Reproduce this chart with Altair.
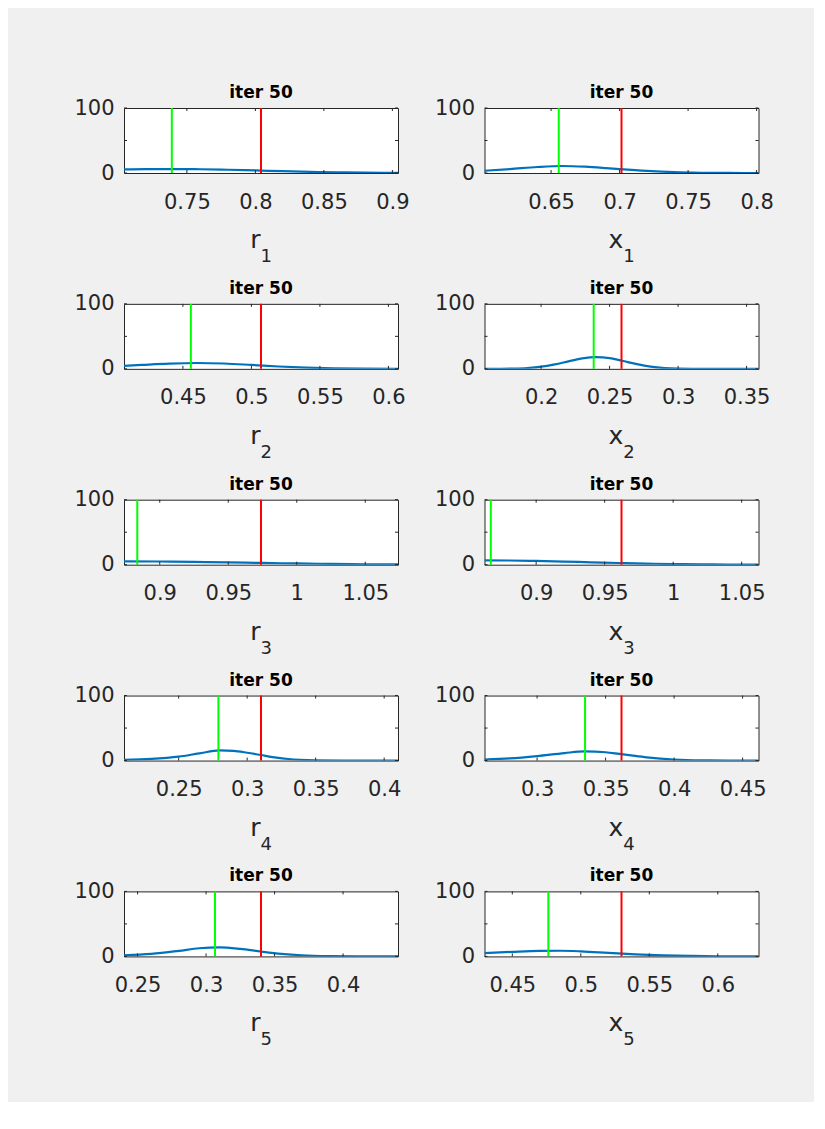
import altair as alt
import pandas as pd

FONT = "DejaVu Sans"
TEXT = "#262626"
BLUE = "#0072BD"

# panel identity
LETTERS = ["r", "x", "r", "x", "r", "x", "r", "x", "r", "x"]
SUBS = ["1", "1", "2", "2", "3", "3", "4", "4", "5", "5"]
TITLES = ["iter 50"] * 10

# red (reference) and green (estimate) vertical lines
RED = [0.8041, 0.7014, 0.5070, 0.2587, 0.9739, 0.9623, 0.3101, 0.3616, 0.3401, 0.5297]
GREEN = [0.7390, 0.6556, 0.4558, 0.2384, 0.8836, 0.8669, 0.2790, 0.3350, 0.3065, 0.4763]

# x-axis limits
X_MIN = [0.7041, 0.6014, 0.4070, 0.1587, 0.8739, 0.8623, 0.2101, 0.2616, 0.2401, 0.4297]
X_MAX = [0.9041, 0.8014, 0.6070, 0.3587, 1.0739, 1.0623, 0.4101, 0.4616, 0.4401, 0.6297]

# x tick labels
X_TICKS = [
    [0.75, 0.8, 0.85, 0.9],
    [0.65, 0.7, 0.75, 0.8],
    [0.45, 0.5, 0.55, 0.6],
    [0.2, 0.25, 0.3, 0.35],
    [0.9, 0.95, 1.0, 1.05],
    [0.9, 0.95, 1.0, 1.05],
    [0.25, 0.3, 0.35, 0.4],
    [0.3, 0.35, 0.4, 0.45],
    [0.25, 0.3, 0.35, 0.4],
    [0.45, 0.5, 0.55, 0.6],
]
Y_TICKS = [0, 50, 100]

# blue density curves
R1_X = [0.7041, 0.72, 0.74, 0.76, 0.78, 0.80, 0.82, 0.84, 0.86, 0.88, 0.9041]
R1_Y = [5.5, 6.0, 6.1, 5.8, 5.0, 3.9, 2.8, 1.8, 1.0, 0.5, 0.2]
X1_X = [0.6014, 0.62, 0.64, 0.658, 0.675, 0.69, 0.70, 0.72, 0.74, 0.76, 0.78, 0.8014]
X1_Y = [3.5, 6.0, 9.2, 10.8, 9.7, 7.6, 6.0, 3.2, 1.3, 0.4, 0.1, 0.0]
R2_X = [0.407, 0.42, 0.44, 0.46, 0.48, 0.50, 0.52, 0.54, 0.56, 0.58, 0.607]
R2_Y = [4.6, 6.0, 8.0, 9.0, 8.2, 6.0, 3.6, 1.8, 0.7, 0.2, 0.05]
X2_X = [0.1587, 0.17, 0.18, 0.19, 0.20, 0.21, 0.22, 0.23, 0.24, 0.25, 0.26, 0.27, 0.28, 0.29, 0.30, 0.32, 0.3587]
X2_Y = [0.0, 0.1, 0.4, 1.3, 3.3, 6.9, 11.5, 16.0, 18.0, 16.5, 12.0, 7.2, 3.5, 1.3, 0.4, 0.0, 0.0]
R3_X = [0.8739, 0.90, 0.925, 0.95, 0.975, 1.0, 1.025, 1.05, 1.0739]
R3_Y = [5.2, 4.9, 4.3, 3.5, 2.7, 1.9, 1.2, 0.7, 0.4]
X3_X = [0.8623, 0.88, 0.90, 0.92, 0.94, 0.96, 0.98, 1.0, 1.02, 1.04, 1.0623]
X3_Y = [6.8, 6.5, 5.8, 4.8, 3.7, 2.6, 1.7, 1.0, 0.6, 0.3, 0.1]
R4_X = [0.2101, 0.23, 0.25, 0.265, 0.28, 0.29, 0.30, 0.31, 0.32, 0.33, 0.35, 0.37, 0.4101]
R4_Y = [1.0, 2.5, 6.0, 11.0, 15.5, 14.8, 12.0, 8.5, 5.0, 2.4, 0.5, 0.1, 0.0]
X4_X = [0.2616, 0.28, 0.30, 0.32, 0.335, 0.35, 0.36, 0.37, 0.38, 0.40, 0.42, 0.44, 0.4616]
X4_Y = [1.5, 3.2, 6.8, 11.5, 14.0, 12.8, 10.2, 7.5, 5.0, 1.6, 0.3, 0.05, 0.0]
R5_X = [0.2401, 0.26, 0.28, 0.295, 0.31, 0.325, 0.34, 0.355, 0.37, 0.39, 0.41, 0.4401]
R5_Y = [1.8, 4.0, 8.5, 12.5, 13.8, 11.5, 7.5, 4.0, 1.8, 0.5, 0.1, 0.0]
X5_X = [0.4297, 0.45, 0.47, 0.485, 0.50, 0.52, 0.54, 0.56, 0.58, 0.60, 0.6297]
X5_Y = [5.0, 7.0, 8.5, 8.7, 7.8, 5.5, 3.2, 1.6, 0.7, 0.25, 0.05]

CURVES_X = [R1_X, X1_X, R2_X, X2_X, R3_X, X3_X, R4_X, X4_X, R5_X, X5_X]
CURVES_Y = [R1_Y, X1_Y, R2_Y, X2_Y, R3_Y, X3_Y, R4_Y, X4_Y, R5_Y, X5_Y]

W, H = 274, 65
TICK_LEN = 3


def panel(i):
    xs = alt.Scale(domain=[X_MIN[i], X_MAX[i]], nice=False, zero=False)
    ys = alt.Scale(domain=[0, 100], nice=False, zero=False)
    xaxis = alt.Axis(values=X_TICKS[i], format="~g", title=None, grid=False,
                     domain=False, ticks=False, labelFontSize=21, labelFont=FONT,
                     labelColor=TEXT, labelPadding=18, labelFlush=False,
                     labelOverlap=False)
    yaxis = alt.Axis(values=Y_TICKS, title=None, grid=False, domain=False,
                     ticks=False, labelFontSize=21, labelFont=FONT, labelColor=TEXT,
                     labelPadding=10, labelFlush=False, labelOverlap=False)

    curve = pd.DataFrame({"v": CURVES_X[i], "d": CURVES_Y[i]})
    line = alt.Chart(curve).mark_line(color=BLUE, strokeWidth=2.2,
                                      interpolate="monotone", clip=True).encode(
        x=alt.X("v:Q", scale=xs, axis=xaxis),
        y=alt.Y("d:Q", scale=ys, axis=yaxis),
    )

    vlines = pd.DataFrame({"v": [GREEN[i], RED[i]], "c": ["est", "true"]})
    rules = alt.Chart(vlines).mark_rule(strokeWidth=2).encode(
        x=alt.X("v:Q", scale=xs),
        color=alt.Color("c:N", scale=alt.Scale(domain=["est", "true"],
                                               range=["#00ff00", "#ff0000"]),
                        legend=None),
    )

    xt = pd.DataFrame({"v": X_TICKS[i]})
    xt_bot = alt.Chart(xt).mark_rule(color=TEXT, strokeWidth=1).encode(
        x=alt.X("v:Q", scale=xs), y=alt.value(H - TICK_LEN), y2=alt.value(H))
    xt_top = alt.Chart(xt).mark_rule(color=TEXT, strokeWidth=1).encode(
        x=alt.X("v:Q", scale=xs), y=alt.value(0), y2=alt.value(TICK_LEN))

    yt = pd.DataFrame({"d": Y_TICKS})
    yt_left = alt.Chart(yt).mark_rule(color=TEXT, strokeWidth=1).encode(
        y=alt.Y("d:Q", scale=ys), x=alt.value(0), x2=alt.value(TICK_LEN))
    yt_right = alt.Chart(yt).mark_rule(color=TEXT, strokeWidth=1).encode(
        y=alt.Y("d:Q", scale=ys), x=alt.value(W - TICK_LEN), x2=alt.value(W))

    off = -0.55 if LETTERS[i] == "r" else 1.7
    one = pd.DataFrame({"k": [0]})
    lab_main = alt.Chart(one).mark_text(
        text=LETTERS[i], font=FONT, fontSize=25, color=TEXT, align="right",
        baseline="alphabetic").encode(x=alt.value(W / 2 + off), y=alt.value(H + 75))
    lab_sub = alt.Chart(one).mark_text(
        text=SUBS[i], font=FONT, fontSize=18, color=TEXT, align="left",
        baseline="alphabetic").encode(x=alt.value(W / 2 + off), y=alt.value(H + 89))

    return alt.layer(line, rules, xt_bot, xt_top, yt_left, yt_right, lab_main, lab_sub).properties(
        width=W, height=H,
        title=alt.TitleParams(TITLES[i], font=FONT, fontSize=17, fontWeight="bold",
                              color="#000000", offset=-22, baseline="bottom",
                              anchor="middle", frame="group"),
    )


chart = alt.concat(*[panel(i) for i in range(10)], columns=2,
                   spacing={"row": 130.85, "column": 86.5}, bounds="flush").properties(
    background="#f0f0f0",
    padding={"left": 65, "top": 75, "right": 40, "bottom": 52},
).configure_view(stroke=TEXT, strokeWidth=1, fill="white")

chart.save("out.html", embed_options={"renderer": "svg", "actions": False})
